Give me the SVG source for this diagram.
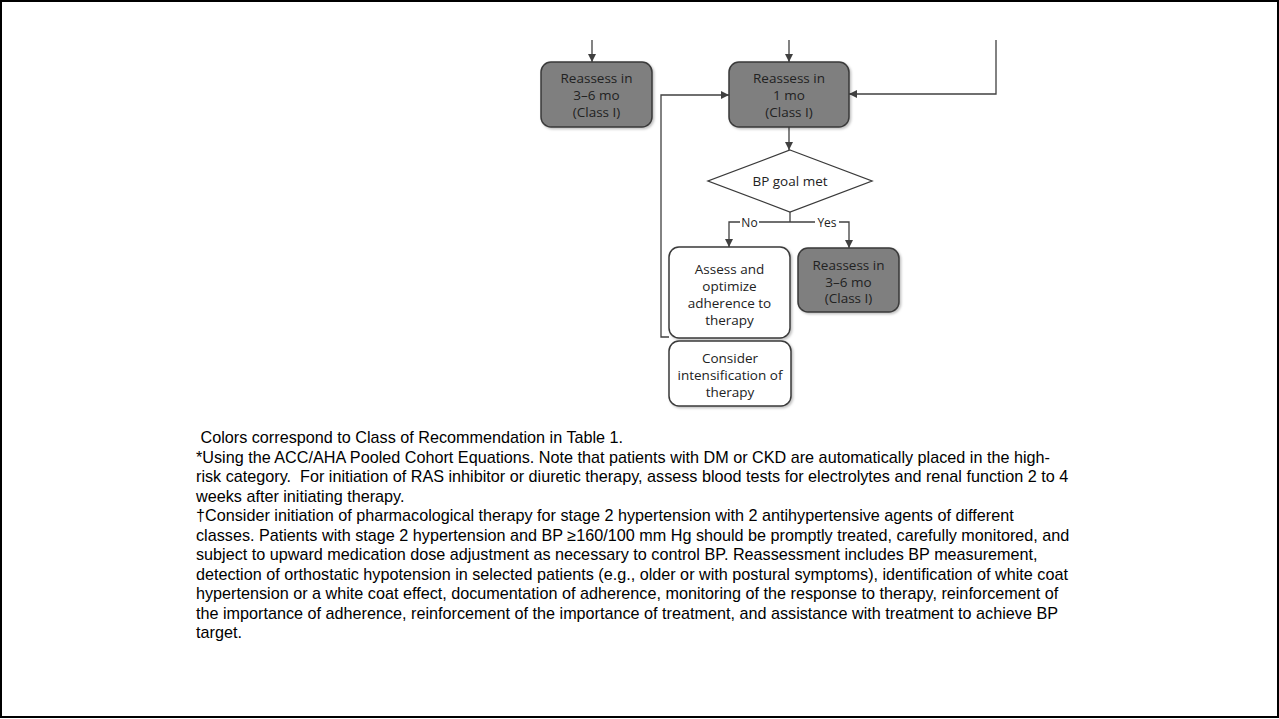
<svg xmlns="http://www.w3.org/2000/svg" width="1279" height="719" viewBox="0 0 1279 719">
<defs>
<marker id="arr" viewBox="0 0 10 10" refX="10" refY="5" markerWidth="8" markerHeight="8" markerUnits="userSpaceOnUse" orient="auto">
<path d="M0,0 L10,5 L0,10 z" fill="#404040"/>
</marker>
<filter id="sh" x="-10%" y="-10%" width="130%" height="130%">
<feDropShadow dx="1.5" dy="1.5" stdDeviation="1" flood-color="#000" flood-opacity="0.25"/>
</filter>
</defs>
<style>
.gray{fill:#7f7f7f;stroke:#3a3a3a;stroke-width:1.5;filter:url(#sh)}
.white{fill:#ffffff;stroke:#3a3a3a;stroke-width:1.5;filter:url(#sh)}
.nt{font-family:"Open Sans","Liberation Sans",Arial,sans-serif;font-size:13.5px;fill:#222;text-anchor:middle}
.lbl{font-family:"Open Sans","Liberation Sans",Arial,sans-serif;font-size:12px;fill:#222;text-anchor:middle}
.ln{fill:none;stroke:#404040;stroke-width:1.3}
.foot{font-family:"Liberation Sans",Arial,sans-serif;font-size:16.2px;fill:#000}
</style>
<rect x="1" y="1" width="1277" height="716" fill="#fff" stroke="#000" stroke-width="2"/>

<g id="connectors">
<path class="ln" d="M592,40 L592,62" marker-end="url(#arr)"/>
<path class="ln" d="M789,40 L789,62" marker-end="url(#arr)"/>
<path class="ln" d="M996,40 L996,94 L849,94" marker-end="url(#arr)"/>
<path class="ln" d="M669,337 L661,337 L661,95 L729,95" marker-end="url(#arr)"/>
<path class="ln" d="M789,127 L789,150" marker-end="url(#arr)"/>
<path class="ln" d="M790,212 L790,222"/>
<path class="ln" d="M790,222 L729,222 L729,247" marker-end="url(#arr)"/>
<path class="ln" d="M790,222 L849,222 L849,248" marker-end="url(#arr)"/>
<rect x="740" y="215" width="19" height="14" fill="#fff"/>
<text class="lbl" x="749.5" y="226.5">No</text>
<rect x="815" y="215" width="24" height="14" fill="#fff"/>
<text class="lbl" x="827" y="226.5">Yes</text>
</g>

<g id="n_reassess36a">
<rect class="gray" x="541" y="62" width="111" height="65" rx="10"/>
<text class="nt" x="596.5" y="83">Reassess in</text>
<text class="nt" x="596.5" y="99.5">3–6 mo</text>
<text class="nt" x="596.5" y="116.5">(Class I)</text>
</g>

<g id="n_reassess1">
<rect class="gray" x="729" y="62" width="120" height="65" rx="10"/>
<text class="nt" x="789" y="83">Reassess in</text>
<text class="nt" x="789" y="99.5">1 mo</text>
<text class="nt" x="789" y="116.5">(Class I)</text>
</g>

<g id="n_goal">
<polygon points="790,150 872,181 790,212 708,181" fill="#fff" stroke="#3a3a3a" stroke-width="1.3"/>
<text class="nt" x="790" y="186">BP goal met</text>
</g>

<g id="n_assess">
<rect class="white" x="669" y="247" width="121" height="91" rx="10"/>
<text class="nt" x="729.5" y="274">Assess and</text>
<text class="nt" x="729.5" y="291">optimize</text>
<text class="nt" x="729.5" y="308">adherence to</text>
<text class="nt" x="729.5" y="324.5">therapy</text>
</g>

<g id="n_reassess36b">
<rect class="gray" x="798" y="248" width="101" height="64" rx="10"/>
<text class="nt" x="848.5" y="270">Reassess in</text>
<text class="nt" x="848.5" y="287">3–6 mo</text>
<text class="nt" x="848.5" y="302.5">(Class I)</text>
</g>

<g id="n_consider">
<rect class="white" x="669" y="341" width="122" height="65" rx="10"/>
<text class="nt" x="730" y="363">Consider</text>
<text class="nt" x="730" y="380">intensification of</text>
<text class="nt" x="730" y="396.5">therapy</text>
</g>

<g id="footnotes">
<text class="foot" x="196" y="443" xml:space="preserve"> Colors correspond to Class of Recommendation in Table 1.</text>
<text class="foot" x="196" y="462.5">*Using the ACC/AHA Pooled Cohort Equations. Note that patients with DM or CKD are automatically placed in the high-</text>
<text class="foot" x="196" y="482" xml:space="preserve">risk category.  For initiation of RAS inhibitor or diuretic therapy, assess blood tests for electrolytes and renal function 2 to 4</text>
<text class="foot" x="196" y="501.5">weeks after initiating therapy.</text>
<text class="foot" x="196" y="521">†Consider initiation of pharmacological therapy for stage 2 hypertension with 2 antihypertensive agents of different</text>
<text class="foot" x="196" y="540.5">classes. Patients with stage 2 hypertension and BP ≥160/100 mm Hg should be promptly treated, carefully monitored, and</text>
<text class="foot" x="196" y="560">subject to upward medication dose adjustment as necessary to control BP. Reassessment includes BP measurement,</text>
<text class="foot" x="196" y="579.5">detection of orthostatic hypotension in selected patients (e.g., older or with postural symptoms), identification of white coat</text>
<text class="foot" x="196" y="599">hypertension or a white coat effect, documentation of adherence, monitoring of the response to therapy, reinforcement of</text>
<text class="foot" x="196" y="618.5">the importance of adherence, reinforcement of the importance of treatment, and assistance with treatment to achieve BP</text>
<text class="foot" x="196" y="638">target.</text>
</g>
</svg>
